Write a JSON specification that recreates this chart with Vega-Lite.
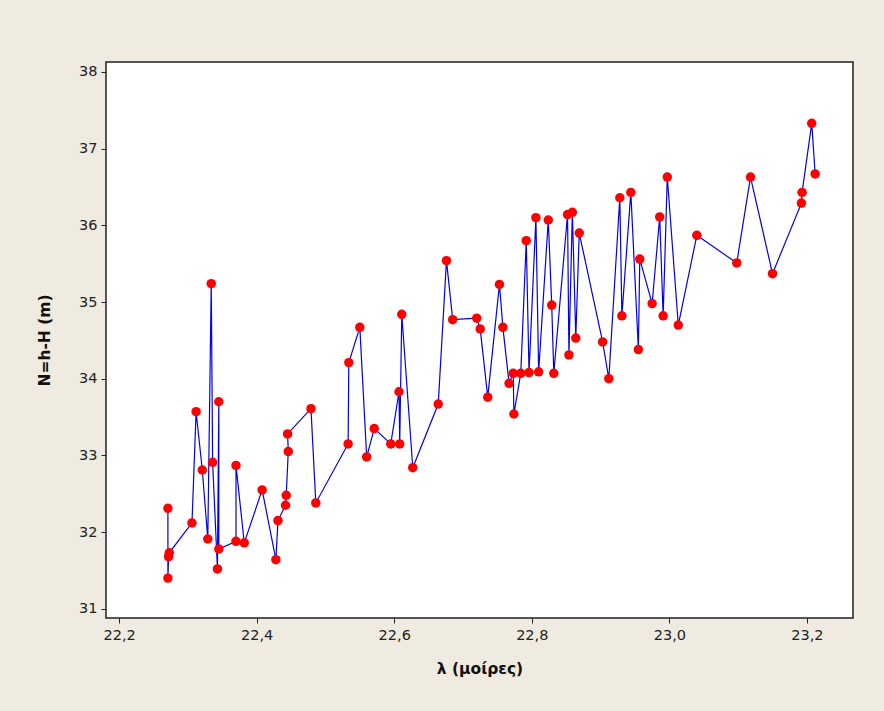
{
  "$schema": "https://vega.github.io/schema/vega-lite/v6.json",
  "width": 747,
  "height": 556,
  "autosize": {"type": "none"},
  "padding": {"left": 106, "top": 62, "right": 31, "bottom": 93},
  "background": "#F0EBE1",
  "config": {
    "view": {"fill": "white", "stroke": "#222222", "strokeWidth": 1.5},
    "axis": {
      "labelFont": "DejaVu Sans",
      "labelFontSize": 14.5,
      "labelColor": "#222222",
      "titleFont": "DejaVu Sans",
      "titleFontWeight": "bold",
      "titleFontSize": 15.5,
      "titleColor": "#111111",
      "tickColor": "#222222",
      "tickSize": 5,
      "grid": false,
      "domain": false
    }
  },
  "data": {
    "values": [
      {"i": 1, "x": 22.271, "y": 32.31},
      {"i": 2, "x": 22.271, "y": 31.40},
      {"i": 3, "x": 22.272, "y": 31.68},
      {"i": 4, "x": 22.273, "y": 31.73},
      {"i": 5, "x": 22.306, "y": 32.12},
      {"i": 6, "x": 22.312, "y": 33.57},
      {"i": 7, "x": 22.321, "y": 32.81},
      {"i": 8, "x": 22.329, "y": 31.91},
      {"i": 9, "x": 22.334, "y": 35.24},
      {"i": 10, "x": 22.336, "y": 32.91},
      {"i": 11, "x": 22.343, "y": 31.52},
      {"i": 12, "x": 22.345, "y": 33.70},
      {"i": 13, "x": 22.345, "y": 31.78},
      {"i": 14, "x": 22.370, "y": 31.88},
      {"i": 15, "x": 22.370, "y": 32.87},
      {"i": 16, "x": 22.382, "y": 31.86},
      {"i": 17, "x": 22.408, "y": 32.55},
      {"i": 18, "x": 22.428, "y": 31.64},
      {"i": 19, "x": 22.431, "y": 32.15},
      {"i": 20, "x": 22.442, "y": 32.35},
      {"i": 21, "x": 22.443, "y": 32.48},
      {"i": 22, "x": 22.446, "y": 33.05},
      {"i": 23, "x": 22.445, "y": 33.28},
      {"i": 24, "x": 22.479, "y": 33.61},
      {"i": 25, "x": 22.486, "y": 32.38},
      {"i": 26, "x": 22.533, "y": 33.15},
      {"i": 27, "x": 22.534, "y": 34.21},
      {"i": 28, "x": 22.550, "y": 34.67},
      {"i": 29, "x": 22.560, "y": 32.98},
      {"i": 30, "x": 22.571, "y": 33.35},
      {"i": 31, "x": 22.595, "y": 33.15},
      {"i": 32, "x": 22.607, "y": 33.83},
      {"i": 33, "x": 22.608, "y": 33.15},
      {"i": 34, "x": 22.611, "y": 34.84},
      {"i": 35, "x": 22.627, "y": 32.84},
      {"i": 36, "x": 22.664, "y": 33.67},
      {"i": 37, "x": 22.676, "y": 35.54},
      {"i": 38, "x": 22.685, "y": 34.77},
      {"i": 39, "x": 22.720, "y": 34.79},
      {"i": 40, "x": 22.725, "y": 34.65},
      {"i": 41, "x": 22.736, "y": 33.76},
      {"i": 42, "x": 22.753, "y": 35.23},
      {"i": 43, "x": 22.758, "y": 34.67},
      {"i": 44, "x": 22.767, "y": 33.94},
      {"i": 45, "x": 22.773, "y": 34.07},
      {"i": 46, "x": 22.774, "y": 33.54},
      {"i": 47, "x": 22.784, "y": 34.07},
      {"i": 48, "x": 22.792, "y": 35.80},
      {"i": 49, "x": 22.796, "y": 34.08},
      {"i": 50, "x": 22.806, "y": 36.10},
      {"i": 51, "x": 22.810, "y": 34.09},
      {"i": 52, "x": 22.824, "y": 36.07},
      {"i": 53, "x": 22.829, "y": 34.96},
      {"i": 54, "x": 22.832, "y": 34.07},
      {"i": 55, "x": 22.852, "y": 36.14},
      {"i": 56, "x": 22.854, "y": 34.31},
      {"i": 57, "x": 22.859, "y": 36.17},
      {"i": 58, "x": 22.864, "y": 34.53},
      {"i": 59, "x": 22.869, "y": 35.90},
      {"i": 60, "x": 22.903, "y": 34.48},
      {"i": 61, "x": 22.912, "y": 34.00},
      {"i": 62, "x": 22.928, "y": 36.36},
      {"i": 63, "x": 22.931, "y": 34.82},
      {"i": 64, "x": 22.944, "y": 36.43},
      {"i": 65, "x": 22.955, "y": 34.38},
      {"i": 66, "x": 22.957, "y": 35.56},
      {"i": 67, "x": 22.975, "y": 34.98},
      {"i": 68, "x": 22.986, "y": 36.11},
      {"i": 69, "x": 22.991, "y": 34.82},
      {"i": 70, "x": 22.997, "y": 36.63},
      {"i": 71, "x": 23.013, "y": 34.70},
      {"i": 72, "x": 23.040, "y": 35.87},
      {"i": 73, "x": 23.098, "y": 35.51},
      {"i": 74, "x": 23.118, "y": 36.63},
      {"i": 75, "x": 23.150, "y": 35.37},
      {"i": 76, "x": 23.192, "y": 36.29},
      {"i": 77, "x": 23.193, "y": 36.43},
      {"i": 78, "x": 23.207, "y": 37.33},
      {"i": 79, "x": 23.212, "y": 36.67}
    ]
  },
  "encoding": {
    "x": {
      "field": "x",
      "type": "quantitative",
      "scale": {"domain": [22.181, 23.267], "nice": false, "zero": false},
      "axis": {
        "title": "λ (μοίρες)",
        "values": [22.2, 22.4, 22.6, 22.8, 23.0, 23.2],
        "labelExpr": "replace(format(datum.value, '.1f'), '.', ',')",
        "labelPadding": 5,
        "titlePadding": 20
      }
    },
    "y": {
      "field": "y",
      "type": "quantitative",
      "scale": {"domain": [30.88, 38.13], "nice": false, "zero": false},
      "axis": {
        "title": "N=h-H (m)",
        "values": [31, 32, 33, 34, 35, 36, 37, 38],
        "labelPadding": 4,
        "titlePadding": 26
      }
    }
  },
  "layer": [
    {
      "mark": {"type": "line", "color": "#0000EE", "strokeWidth": 1.2},
      "encoding": {"order": {"field": "i", "type": "quantitative"}}
    },
    {
      "mark": {"type": "point", "filled": true, "shape": "circle", "color": "#FF0000", "opacity": 1, "size": 90}
    }
  ]
}
